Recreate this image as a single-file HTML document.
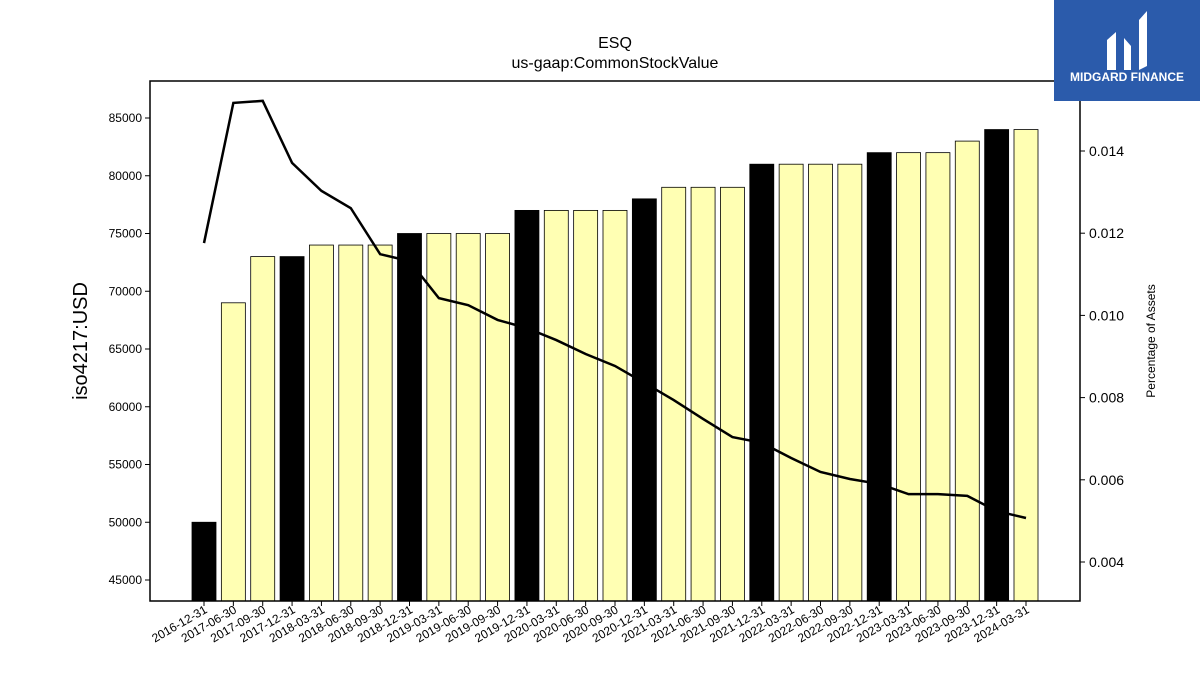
<!DOCTYPE html>
<html><head><meta charset="utf-8"><style>
body{margin:0;background:#fff;width:1200px;height:675px;overflow:hidden;font-family:"Liberation Sans","DejaVu Sans",sans-serif}
</style></head><body>
<svg id="chart" width="1200" height="675" xmlns="http://www.w3.org/2000/svg">
<text x="615" y="48" text-anchor="middle" font-size="16">ESQ</text>
<text x="615" y="68" text-anchor="middle" font-size="16">us-gaap:CommonStockValue</text>
<g id="bars"></g><g id="line"></g><g id="xticks"></g><g id="yticks"></g><g id="y2ticks"></g>
<rect x="150" y="81" width="930" height="520" fill="none" stroke="#000" stroke-width="1.5"/>
<text transform="translate(87,341) rotate(-90)" text-anchor="middle" font-size="20">iso4217:USD</text>
<text transform="translate(1155,341) rotate(-90)" text-anchor="middle" font-size="12">Percentage of Assets</text>
<g>
<rect x="1054" y="0" width="146" height="101" fill="#2b5bab"/>
<path d="M1107 70 L1107 40 L1116 32 L1116 70 Z M1124 70 L1124 38 L1131 46 L1131 70 Z M1139 70 L1139 20 L1147 11 L1147 66 Z" fill="#fff"/>
<text x="1127" y="81" text-anchor="middle" font-size="12" font-weight="bold" fill="#fff">MIDGARD FINANCE</text>
</g>
</svg>
<script>
const categories=["2016-12-31","2017-06-30","2017-09-30","2017-12-31","2018-03-31","2018-06-30","2018-09-30","2018-12-31","2019-03-31","2019-06-30","2019-09-30","2019-12-31","2020-03-31","2020-06-30","2020-09-30","2020-12-31","2021-03-31","2021-06-30","2021-09-30","2021-12-31","2022-03-31","2022-06-30","2022-09-30","2022-12-31","2023-03-31","2023-06-30","2023-09-30","2023-12-31","2024-03-31"];
const values=[50000,69000,73000,73000,74000,74000,74000,75000,75000,75000,75000,77000,77000,77000,77000,78000,79000,79000,79000,81000,81000,81000,81000,82000,82000,82000,83000,84000,84000];
const pctAssets=[0.01176,0.01517,0.01522,0.01371,0.01303,0.01261,0.01149,0.01132,0.01042,0.01025,0.00989,0.00969,0.00940,0.00906,0.00877,0.00836,0.00794,0.00748,0.00704,0.00690,0.00653,0.00619,0.00602,0.00590,0.00565,0.00565,0.00561,0.00524,0.00507];
const yTicks=[45000,50000,55000,60000,65000,70000,75000,80000,85000];
const y2Ticks=[0.004,0.006,0.008,0.010,0.012,0.014];
const NS="http://www.w3.org/2000/svg";
const x=i=>204+i*(1026-204)/28;
const y=v=>580-(v-45000)/5000*57.75;
const y2=v=>562-(v-0.004)/0.002*82.2;
function mk(t,a,p){const e=document.createElementNS(NS,t);for(const k in a)e.setAttribute(k,a[k]);document.getElementById(p).appendChild(e);return e;}
values.forEach((v,i)=>{
 const black=categories[i].endsWith("12-31");
 const r=mk("rect",{x:x(i)-12,y:y(v),width:24,height:601-y(v),fill:black?"#000":"#ffffb3",stroke:"#000","stroke-width":0.8},"bars");
 
 
 mk("line",{x1:x(i),x2:x(i),y1:601,y2:606,stroke:"#000"},"xticks");
 const t=mk("text",{transform:`translate(${x(i)+4},${612}) rotate(-30)`,"text-anchor":"end","font-size":12},"xticks");
 t.textContent=categories[i];
 
 
});
const pl=mk("polyline",{points:pctAssets.map((v,i)=>x(i)+","+y2(v)).join(" "),fill:"none",stroke:"#000","stroke-width":2.5},"line");


yTicks.forEach(v=>{
 mk("line",{x1:145,x2:150,y1:y(v),y2:y(v),stroke:"#000"},"yticks");
 const t=mk("text",{x:142,y:y(v)+4,"text-anchor":"end","font-size":12},"yticks");
 t.textContent=v;
 
 
});
y2Ticks.forEach(v=>{
 mk("line",{x1:1080,x2:1085,y1:y2(v),y2:y2(v),stroke:"#000"},"y2ticks");
 const t=mk("text",{x:1089,y:y2(v)+5,"font-size":14},"y2ticks");
 t.textContent=v.toFixed(3);
 
 
});
</script>
</body></html>
